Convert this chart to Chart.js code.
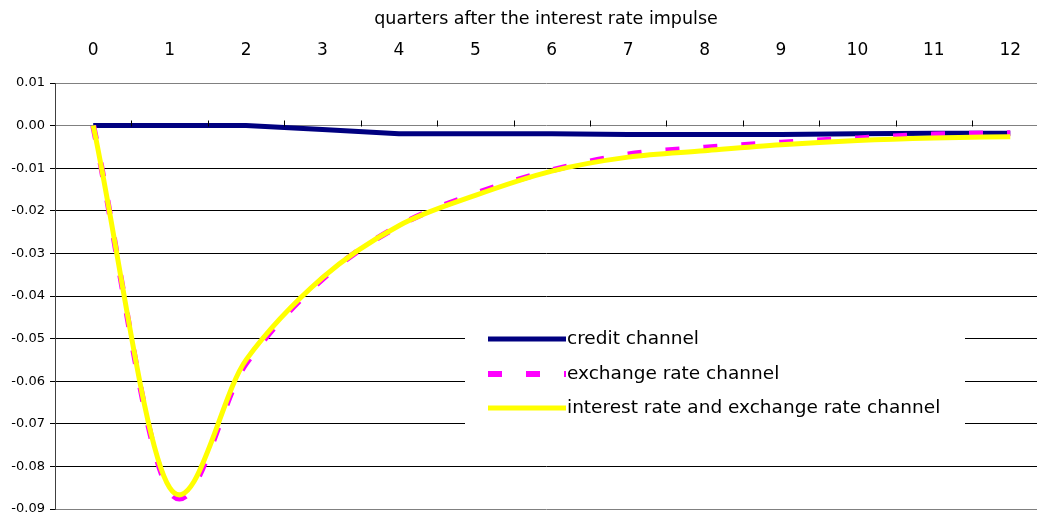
<!DOCTYPE html>
<html lang="en">
<head>
<meta charset="UTF-8">
<title>Impulse responses</title>
<script src="https://cdn.jsdelivr.net/npm/chart.js"></script>
<style>
  html, body { margin: 0; padding: 0; background: #fff; }
  #wrap { width: 1037px; height: 517px; }
</style>
</head>
<body>
<div id="wrap"><canvas id="chart"></canvas></div>
<script>
// quarters after the impulse (x tick labels)
const quarters = [0, 1, 2, 3, 4, 5, 6, 7, 8, 9, 10, 11, 12];
// y tick values
const yTicks = [0.01, 0, -0.01, -0.02, -0.03, -0.04, -0.05, -0.06, -0.07, -0.08, -0.09];

const creditChannel = [0, 0, 0, -0.0009, -0.0019, -0.0019, -0.0019, -0.0021, -0.0021, -0.0021, -0.0019, -0.0018, -0.0018];
const exchangeChannel = [0, -0.0858, -0.0558, -0.036, -0.0235, -0.016, -0.0105, -0.0068, -0.0052, -0.004, -0.003, -0.0021, -0.0018];
const interestExchangeChannel = [0, -0.085, -0.055, -0.0357, -0.0235, -0.0164, -0.0107, -0.0074, -0.0059, -0.0045, -0.0035, -0.0029, -0.0026];

const FONT = "'DejaVu Sans', sans-serif";

function pts(arr) {
  return quarters.map((q, i) => ({ x: q, y: arr[i] }));
}

// spreadsheet-style smoothing: symmetric control points, (next - prev) / 6
const evenSmooth = {
  id: 'evenSmooth',
  beforeDatasetDraw(chart, args) {
    const meta = args.meta;
    if (!meta.dataset || !meta.dataset.options.tension) return;
    meta.dataset.updateControlPoints(chart.chartArea, meta.indexAxis);
    const p = meta.data, n = p.length;
    for (let i = 0; i < n; i++) {
      const prev = p[Math.max(i - 1, 0)], next = p[Math.min(i + 1, n - 1)];
      const k = (i === 0 || i === n - 1) ? 1 / 3 : 1 / 6;
      const dx = (next.x - prev.x) * k, dy = (next.y - prev.y) * k;
      p[i].cp1x = p[i].x - dx;
      p[i].cp1y = p[i].y - dy;
      p[i].cp2x = p[i].x + dx;
      p[i].cp2y = p[i].y + dy;
    }
  }
};

// small tick marks on the zero line, between the quarters
const zeroTicks = {
  id: 'zeroTicks',
  afterDraw(chart) {
    const ctx = chart.ctx, x = chart.scales.x, y = chart.scales.y;
    const y0 = Math.round(y.getPixelForValue(0)) + 0.5;
    ctx.save();
    ctx.strokeStyle = '#000';
    ctx.lineWidth = 1;
    ctx.beginPath();
    for (let i = 0; i < quarters.length - 1; i++) {
      const px = Math.round(x.getPixelForValue(quarters[i] + 0.5)) + 0.5;
      ctx.moveTo(px, y0 - 6);
      ctx.lineTo(px, y0);
    }
    ctx.stroke();
    ctx.restore();
  }
};

// legend box sitting inside the plot
const innerLegend = {
  id: 'innerLegend',
  afterDraw(chart) {
    const ctx = chart.ctx;
    const left = 465, top = 325, w = 500, h = 99;
    ctx.save();
    ctx.fillStyle = '#fff';
    ctx.fillRect(left, top, w, h);
    ctx.font = '18.5px ' + FONT;
    ctx.textBaseline = 'middle';
    const rows = [339, 374, 408];
    chart.data.datasets.forEach((ds, i) => {
      const yy = rows[i];
      ctx.strokeStyle = ds.borderColor;
      ctx.lineWidth = ds.borderWidth;
      ctx.setLineDash(ds.borderDash || []);
      ctx.lineCap = 'butt';
      ctx.beginPath();
      ctx.moveTo(488, yy);
      ctx.lineTo(566, yy);
      ctx.stroke();
      ctx.setLineDash([]);
      ctx.fillStyle = '#000';
      ctx.fillText(ds.label, 567, yy);
    });
    ctx.restore();
  }
};

new Chart(document.getElementById('chart'), {
  type: 'line',
  data: {
    datasets: [
      {
        label: 'credit channel',
        data: pts(creditChannel),
        borderColor: '#000080',
        borderWidth: 5,
        tension: 0,
        pointRadius: 0,
        order: 3
      },
      {
        label: 'exchange rate channel',
        data: pts(exchangeChannel),
        borderColor: '#ff00ff',
        borderWidth: 6,
        borderDash: [14, 24],
        tension: 0.4,
        pointRadius: 0,
        order: 2
      },
      {
        label: 'interest rate and exchange rate channel',
        data: pts(interestExchangeChannel),
        borderColor: '#ffff00',
        borderWidth: 5,
        tension: 0.4,
        pointRadius: 0,
        order: 1
      }
    ]
  },
  options: {
    responsive: true,
    maintainAspectRatio: false,
    animation: false,
    layout: { padding: { top: 9, right: 0, bottom: 8, left: 0 } },
    plugins: {
      legend: { display: false },
      tooltip: { enabled: false }
    },
    scales: {
      x: {
        type: 'linear',
        position: 'top',
        min: -0.5,
        max: 12.35,
        afterBuildTicks: s => { s.ticks = quarters.map(v => ({ value: v })); },
        afterFit: s => { s.height = 74; s.paddingLeft = 0; s.paddingRight = 0; },
        grid: { display: false, drawTicks: false },
        border: { display: false },
        ticks: {
          color: '#000',
          font: { family: FONT, size: 17 },
          padding: 22,
          maxRotation: 0,
          autoSkip: false
        },
        title: {
          display: true,
          text: 'quarters after the interest rate impulse',
          color: '#000',
          font: { family: FONT, size: 17.5 },
          padding: { top: 0, bottom: 11 }
        }
      },
      y: {
        min: -0.09,
        max: 0.01,
        afterBuildTicks: s => { s.ticks = yTicks.map(v => ({ value: v })); },
        afterFit: s => { s.width = 55; s.paddingTop = 0; s.paddingBottom = 0; },
        grid: {
          color: ctx => (ctx.tick && (ctx.tick.value === 0 || ctx.tick.value === 0.01 || ctx.tick.value === -0.09)) ? '#808080' : '#000',
          lineWidth: 1,
          tickLength: 5,
          tickColor: '#000'
        },
        border: { display: true, color: '#404040', width: 1 },
        ticks: {
          color: '#000',
          font: { family: FONT, size: 13 },
          padding: 5,
          callback: v => v.toFixed(2)
        }
      }
    }
  },
  plugins: [evenSmooth, zeroTicks, innerLegend]
});
</script>
</body>
</html>
